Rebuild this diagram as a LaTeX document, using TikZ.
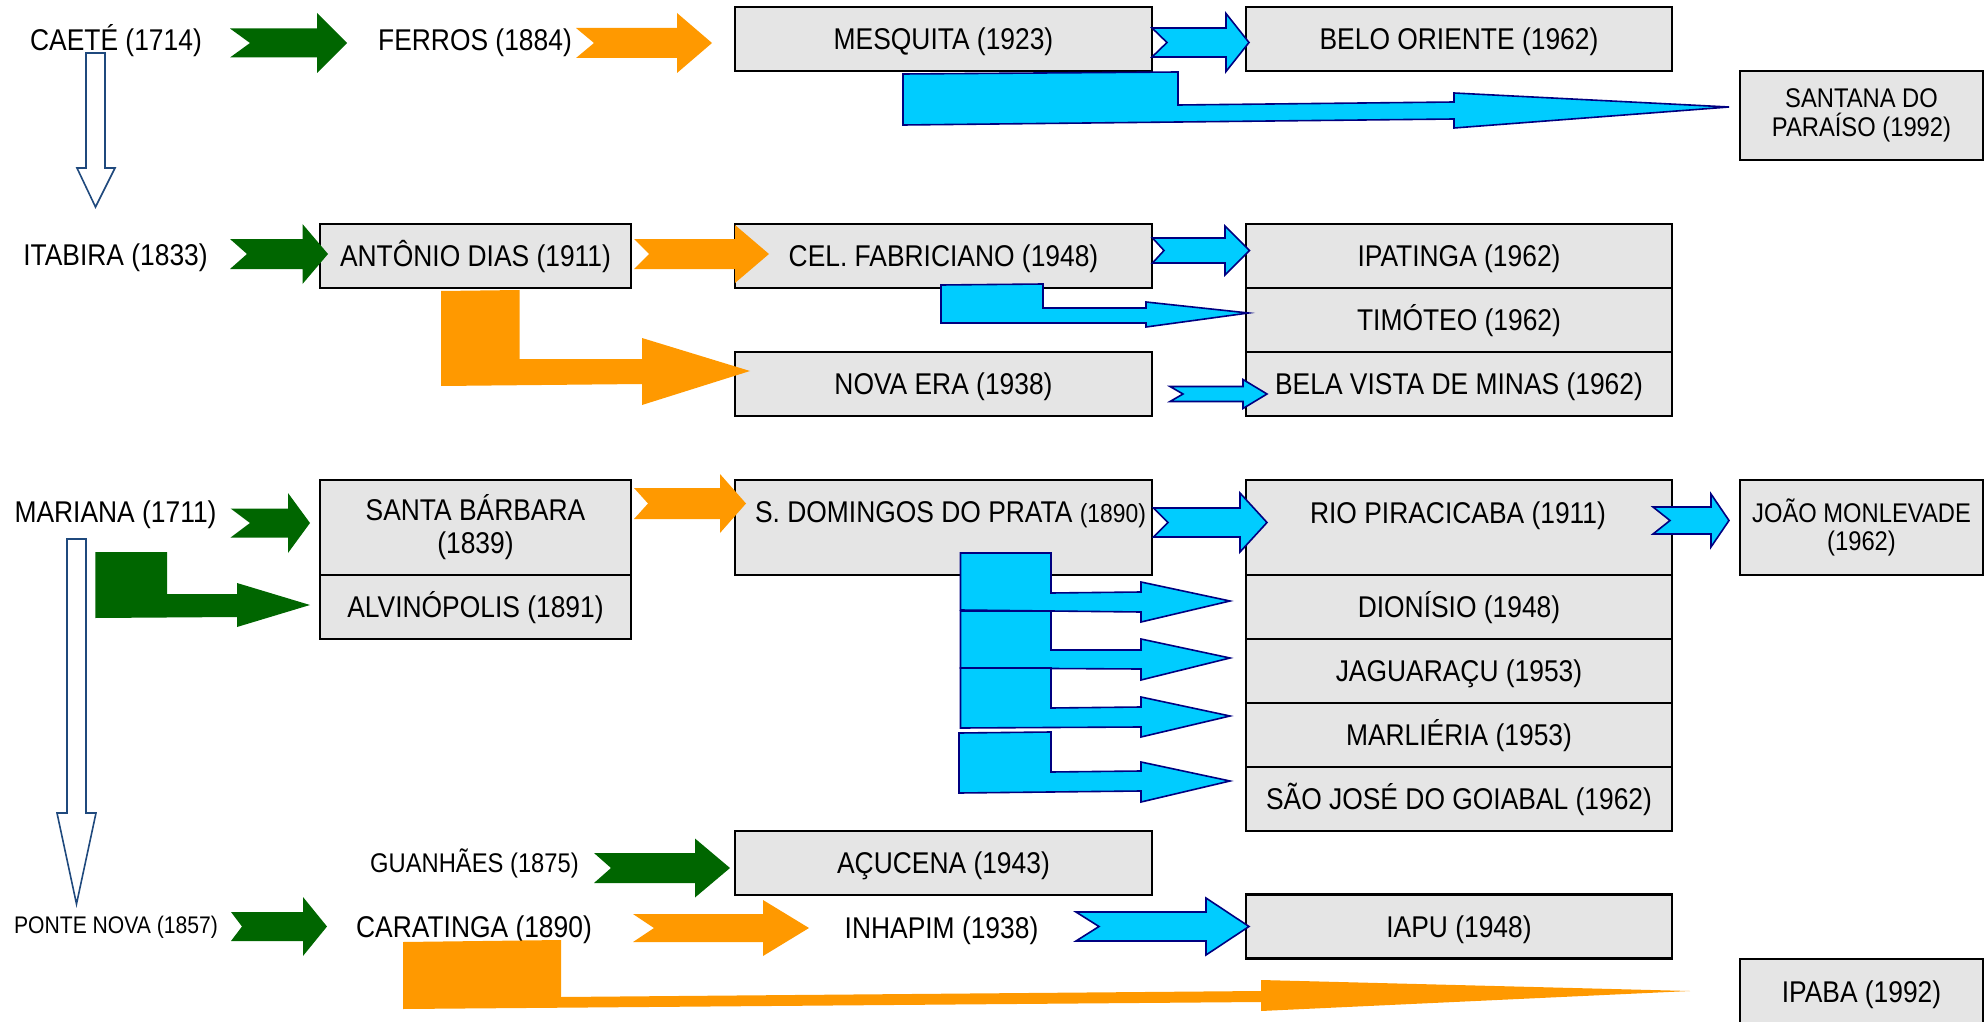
\documentclass[tikz,border=0pt]{standalone}
\usepackage{fontspec}
\setmainfont{Liberation Sans}[FakeStretch=0.88]
\definecolor{boxgray}{RGB}{229,229,229}
\definecolor{dgreen}{RGB}{0,102,0}
\definecolor{orng}{RGB}{255,153,0}
\definecolor{cyanb}{RGB}{0,204,255}
\definecolor{navyb}{RGB}{0,0,128}
\definecolor{hollowb}{RGB}{31,73,125}
\newcommand{\fnorm}{\fontsize{15}{16.5}\selectfont}
\newcommand{\fsmall}{\fontsize{13.5}{14.5}\selectfont}
\newcommand{\ftiny}{\fontsize{12}{13}\selectfont}
% notched block arrow: style, xtail, xnotch, xhead, xtip, ycenter, shaft half, head half
\newcommand{\narw}[8]{\path[#1] (#2,#6-#7) -- (#4,#6-#7) -- (#4,#6-#8) -- (#5,#6) -- (#4,#6+#8) -- (#4,#6+#7) -- (#2,#6+#7) -- (#3,#6) -- cycle;}
\tikzset{
  boxbase/.style={draw=black, fill=boxgray, line width=1.1pt, inner sep=0pt, align=center, font=\fnorm},
  box/.style={boxbase, text height=10.75pt, text depth=0pt},
  boxtwo/.style={boxbase},
  lbl/.style={inner sep=0pt, align=center, font=\fnorm, text height=10.75pt, text depth=0pt},
  garrow/.style={fill=dgreen},
  oarrow/.style={fill=orng},
  carrow/.style={fill=cyanb, draw=navyb, line width=0.8pt, line join=miter},
  harrow/.style={fill=white, draw=hollowb, line width=0.8pt, line join=miter},
}
\begin{document}
\begin{tikzpicture}[x=0.5pt, y=-0.5pt]
\useasboundingbox (0,0) rectangle (1988,1022);
\clip (0,0) rectangle (1988,1022);

% ---------- boxes ----------
\node[box, minimum width=208.5pt, minimum height=32pt] (mesquita) at (943.5,39) {MESQUITA (1923)};
\node[box, minimum width=213pt, minimum height=32pt] (belo) at (1459,39) {BELO ORIENTE (1962)};
\node[boxtwo, minimum width=121.5pt, minimum height=44.5pt, font=\fsmall] (santana) at (1861.5,115.5) {SANTANA DO\\PARAÍSO (1992)};

\node[box, minimum width=155.5pt, minimum height=32pt] (antonio) at (475.5,256) {ANTÔNIO DIAS (1911)};
\node[box, minimum width=208.5pt, minimum height=32pt] (celfab) at (943.5,256) {CEL. FABRICIANO (1948)};
\node[box, minimum width=208.5pt, minimum height=32pt] (novaera) at (943.5,384) {NOVA ERA (1938)};
\node[box, minimum width=213pt, minimum height=32pt] (ipatinga) at (1459,256) {IPATINGA (1962)};
\node[box, minimum width=213pt, minimum height=32pt] (timoteo) at (1459,320) {TIMÓTEO (1962)};
\node[box, minimum width=213pt, minimum height=32pt] (belavista) at (1459,384) {BELA VISTA DE MINAS (1962)};

\node[boxtwo, minimum width=155.5pt, minimum height=47.5pt] (stabarbara) at (475.5,527.5) {SANTA BÁRBARA\\(1839)};
\node[box, minimum width=155.5pt, minimum height=32pt] (alvinopolis) at (475.5,607) {ALVINÓPOLIS (1891)};
\node[boxtwo, minimum width=208.5pt, minimum height=47.5pt] (sdomingos) at (943.5,527.5) {};
\node[lbl] (sdomlbl) at (950.5,512) {S. DOMINGOS DO PRATA {\fontsize{13}{15}\selectfont(1890)}};
\node[boxtwo, minimum width=213pt, minimum height=47.5pt] (rio) at (1459,527.5) {};
\node[lbl] (riolbl) at (1458,513) {RIO PIRACICABA (1911)};
\node[boxtwo, minimum width=121.5pt, minimum height=47.5pt, font={\fontsize{13.5}{14}\selectfont}] (joao) at (1861.5,527.5) {JOÃO MONLEVADE\\(1962)};
\node[box, minimum width=213pt, minimum height=32pt] (dionisio) at (1459,607) {DIONÍSIO (1948)};
\node[box, minimum width=213pt, minimum height=32pt] (jaguaracu) at (1459,671) {JAGUARAÇU (1953)};
\node[box, minimum width=213pt, minimum height=32pt] (marlieria) at (1459,735) {MARLIÉRIA (1953)};
\node[box, minimum width=213pt, minimum height=32pt] (saojose) at (1459,799) {SÃO JOSÉ DO GOIABAL (1962)};

\node[box, minimum width=208.5pt, minimum height=32pt] (acucena) at (943.5,863) {AÇUCENA (1943)};
\node[box, minimum width=213pt, minimum height=32pt] (iapu) at (1459,926.5) {IAPU (1948)};
\node[box, minimum width=121.5pt, minimum height=33pt] (ipaba) at (1861.5,992) {IPABA (1992)};

% ---------- free labels ----------
\node[lbl] (caete) at (116,40) {CAETÉ (1714)};
\node[lbl] (ferros) at (475,40) {FERROS (1884)};
\node[lbl] (itabira) at (115.5,255) {ITABIRA (1833)};
\node[lbl] (mariana) at (115.5,512) {MARIANA (1711)};
\node[lbl, font=\fsmall, text height=9.7pt] (guanhaes) at (474.5,863) {GUANHÃES (1875)};
\node[lbl, font=\ftiny, text height=8.6pt] (ponte) at (116,925) {PONTE NOVA (1857)};
\node[lbl] (caratinga) at (474,927) {CARATINGA (1890)};
\node[lbl] (inhapim) at (941.5,928) {INHAPIM (1938)};

% ---------- hollow down arrows ----------
\path[harrow] (86,53) -- (105,53) -- (105,168) -- (115,168) -- (95.5,207) -- (77,168) -- (86,168) -- cycle;
\path[harrow] (67,539) -- (86,539) -- (86,813) -- (96,813) -- (76.5,904) -- (57,813) -- (67,813) -- cycle;

% ---------- straight notched arrows ----------
\narw{garrow}{230}{250}{317}{347}{43}{14.5}{30}
\narw{oarrow}{576}{594}{677}{712}{43}{15}{30}
\narw{carrow}{1152}{1167}{1226}{1249}{42.5}{14.5}{29}
\narw{garrow}{230}{247}{302.5}{328}{254}{15}{30}
\narw{oarrow}{634}{649}{735}{769}{254}{15}{29}
\narw{carrow}{1152.5}{1164}{1225}{1249.5}{250.5}{12.5}{24.5}
\narw{carrow}{1170}{1183}{1243}{1267}{394}{7.5}{14.5}
\narw{garrow}{230.6}{250}{288}{310}{523}{14.5}{30}
\narw{oarrow}{634}{648}{720}{746}{503.5}{15.5}{29.5}
\narw{carrow}{1153.5}{1168}{1240}{1267}{522.5}{14.5}{29.5}
\narw{carrow}{1653}{1670}{1711}{1729}{520.5}{13.5}{26.5}
\narw{garrow}{594}{611}{695}{730}{868}{15}{29.5}
\narw{garrow}{231}{242}{303}{327}{926.5}{14.5}{29.5}
\narw{oarrow}{633}{654}{763}{809}{928}{14}{28}
\narw{carrow}{1076}{1099}{1206}{1249}{926.5}{14.5}{28.5}

% ---------- bent arrows ----------
\path[carrow] (903,74) -- (1178,72) -- (1178,105) -- (1454,102) -- (1454,93) -- (1729,107) -- (1454,128) -- (1454,119) -- (903,125) -- cycle;
\path[oarrow] (441,291) -- (519.5,290) -- (519.5,359) -- (642,359) -- (642,338) -- (750,371) -- (642,405) -- (642,384) -- (441,386) -- cycle;
\path[carrow] (941,285) -- (1043,284) -- (1043,308) -- (1146,308) -- (1146,302) -- (1248.5,313) -- (1146,327) -- (1146,323) -- (941,323) -- cycle;
\path[garrow] (95.4,552) -- (167,552) -- (167,594) -- (237,594) -- (237,583) -- (310,605) -- (237,627) -- (237,617) -- (95.4,618) -- cycle;
\path[carrow] (960.5,553) -- (1051,553) -- (1051,593) -- (1141,592) -- (1141,582) -- (1230,601) -- (1141,622) -- (1141,612) -- (960.5,610) -- cycle;
\path[carrow] (960.5,611) -- (1051,611) -- (1051,650) -- (1141,650) -- (1141,639) -- (1230,658) -- (1141,680) -- (1141,669) -- (960.5,668) -- cycle;
\path[carrow] (960.5,668) -- (1051,668) -- (1051,708) -- (1141,707) -- (1141,697) -- (1230,716) -- (1141,737) -- (1141,727) -- (960.5,728) -- cycle;
\path[carrow] (959,733) -- (1051,732) -- (1051,772) -- (1141,771) -- (1141,762) -- (1230,781) -- (1141,802) -- (1141,791) -- (959,793) -- cycle;
\path[oarrow] (403,942) -- (561,940) -- (561,997) -- (1261,991) -- (1261,980) -- (1690,991) -- (1261,1011) -- (1261,1002) -- (403,1009) -- cycle;
\end{tikzpicture}
\end{document}
